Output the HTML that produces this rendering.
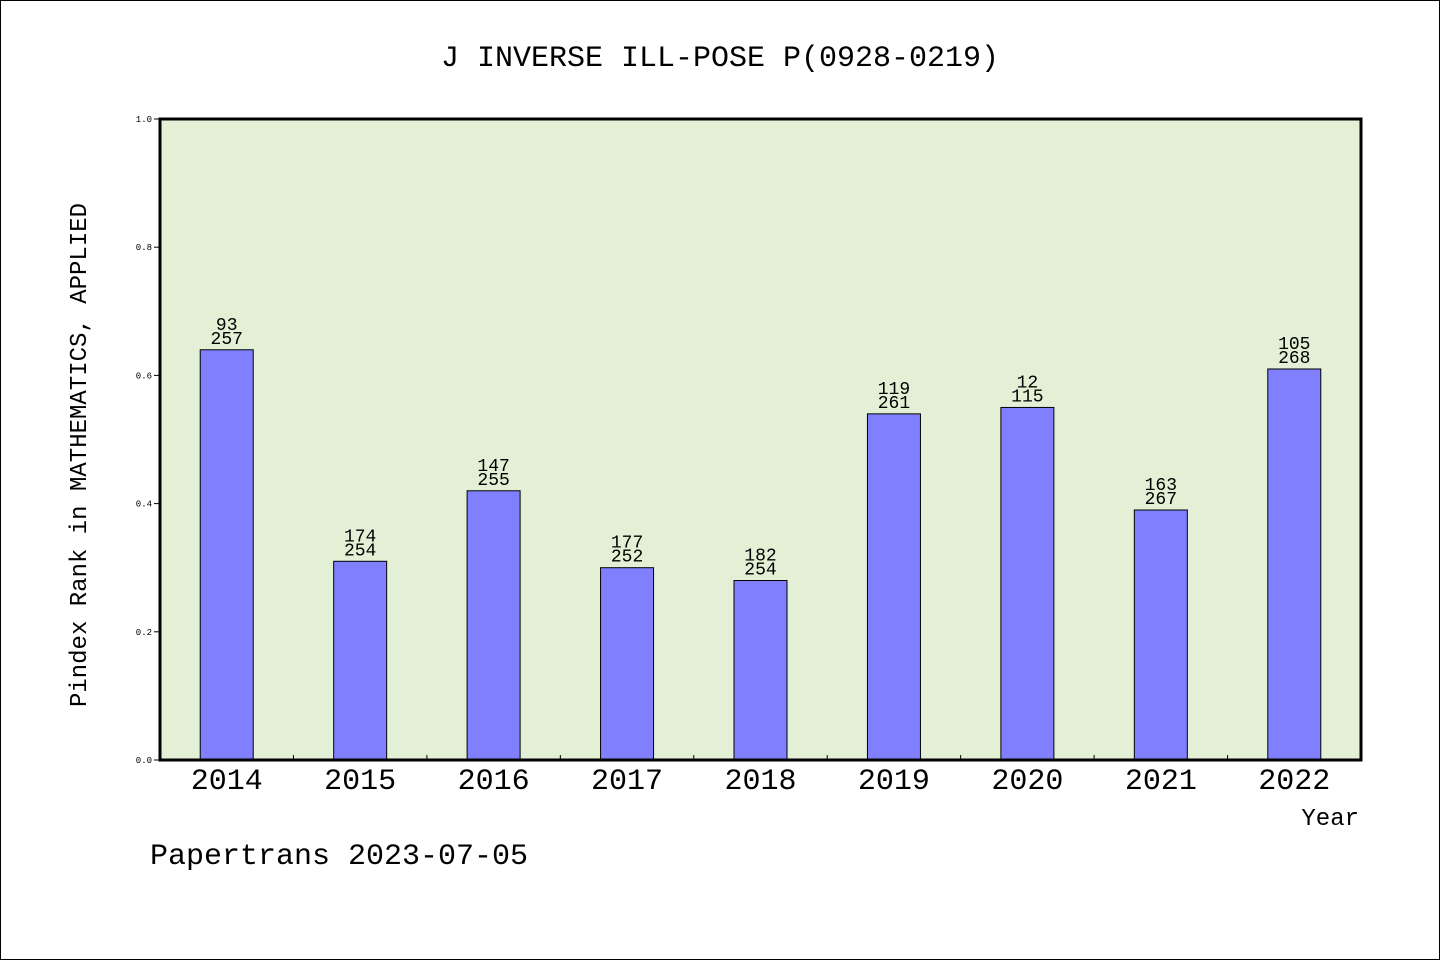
<!DOCTYPE html>
<html><head><meta charset="utf-8"><style>
body{margin:0;background:#fff}
svg text{font-family:"WenQuanYi Zen Hei","Liberation Mono",monospace;fill:#000}
</style></head><body>
<svg width="1440" height="960">
<rect x="0.5" y="0.5" width="1439" height="959" fill="#fff" stroke="#000"/>
<text x="720" y="66" font-size="30" text-anchor="middle">J INVERSE ILL-POSE P(0928-0219)</text>
<rect x="160" y="119" width="1201" height="641" fill="#e3f0d6"/>
<g id="bars"></g>
<rect x="160" y="119" width="1201" height="641" fill="none" stroke="#000" stroke-width="3"/>
<g id="axes"></g>
<text x="86" y="455" font-size="24" text-anchor="middle" transform="rotate(-90 86 455)">Pindex Rank in MATHEMATICS, APPLIED</text>
<text x="1359" y="825" font-size="24" text-anchor="end">Year</text>
<text x="150" y="864" font-size="30">Papertrans 2023-07-05</text>
</svg>
<script>
const years=["2014","2015","2016","2017","2018","2019","2020","2021","2022"];
const values=[0.64,0.31,0.42,0.30,0.28,0.54,0.55,0.39,0.61];
const rankTop=["93","174","147","177","182","119","12","163","105"];
const rankBottom=["257","254","255","252","254","261","115","267","268"];
const yTicks=[0,0.2,0.4,0.6,0.8,1.0];
const NS="http://www.w3.org/2000/svg";
const X0=160,W=1201,Y0=760,H=641,step=W/years.length,bw=53;
const y=v=>Y0-v*H, x=i=>X0+step*(i+0.5);
function mk(t,a,p){const e=document.createElementNS(NS,t);for(const k in a)e.setAttribute(k,a[k]);p.appendChild(e);return e;}
const bars=document.getElementById('bars'),axes=document.getElementById('axes');
values.forEach((v,i)=>{
 const r=mk('rect',{x:x(i)-bw/2,y:y(v),width:bw,height:Y0-y(v),fill:'#8080ff',stroke:'#000','stroke-width':1},bars);
 
 
 const t1=mk('text',{x:x(i),y:y(v)-20,'font-size':18,'text-anchor':'middle'},bars);t1.textContent=rankTop[i];
 
 
 const t2=mk('text',{x:x(i),y:y(v)-6,'font-size':18,'text-anchor':'middle'},bars);t2.textContent=rankBottom[i];
 
 
 const xl=mk('text',{x:x(i),y:789,'font-size':30,'text-anchor':'middle'},axes);xl.textContent=years[i];
 
 
 if(i>0){const tk=mk('line',{x1:X0+step*i,x2:X0+step*i,y1:Y0,y2:Y0-5,stroke:'#000'},axes);
 
 }
});
yTicks.forEach(v=>{
 const l=mk('line',{x1:X0-6,x2:X0,y1:y(v),y2:y(v),stroke:'#000'},axes);
 
 
 const t=mk('text',{x:X0-8,y:y(v)+3,'font-size':9,'text-anchor':'end'},axes);t.textContent=v.toFixed(1);
 
 
});
</script>
</body></html>
